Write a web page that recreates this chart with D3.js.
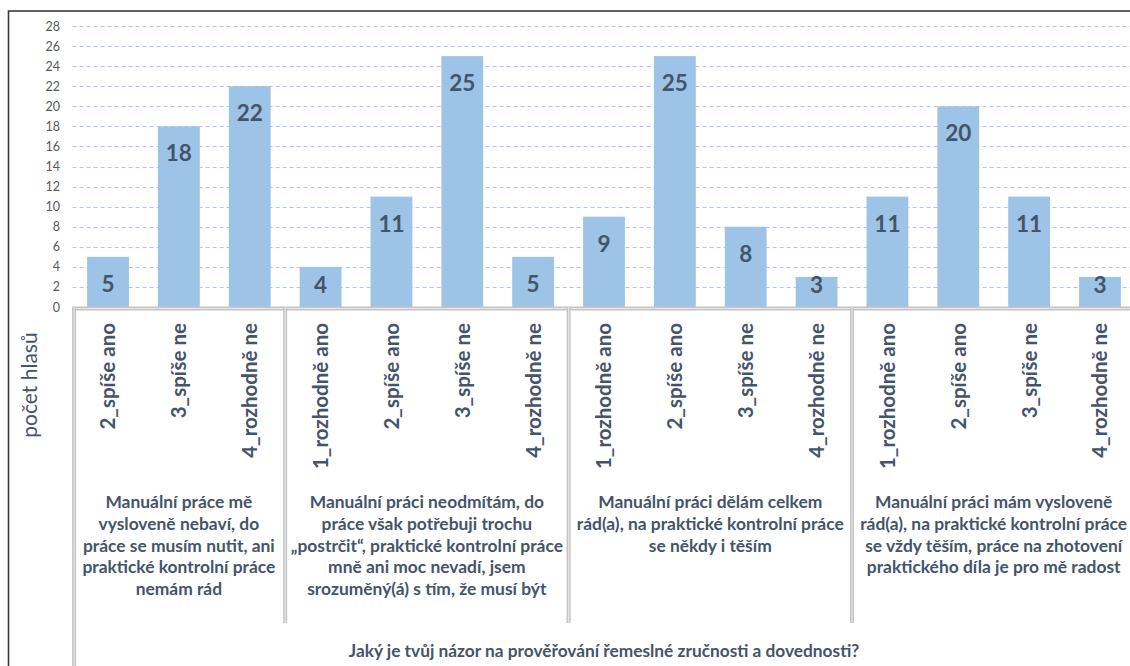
<!DOCTYPE html>
<html>
<head>
<meta charset="utf-8">
<script src="https://cdn.jsdelivr.net/npm/d3@7"></script>
<style>
  html, body { margin: 0; padding: 0; background: #fff; }
  svg { display: block; }
  text { font-family: Lato, "Noto Sans", sans-serif; }
</style>
</head>
<body>
<svg id="chart" width="1130" height="666"></svg>
<script>
// Survey answers, grouped by the statement the respondent chose
const groupLines = [
  ["Manuální práce mě", "vysloveně nebaví, do", "práce se musím nutit, ani", "praktické kontrolní práce", "nemám rád"],
  ["Manuální práci neodmítám, do", "práce však potřebuji trochu", "„postrčit“, praktické kontrolní práce", "mně ani moc nevadí, jsem", "srozuměný(á) s tím, že musí být"],
  ["Manuální práci dělám celkem", "rád(a), na praktické kontrolní práce", "se někdy i těším"],
  ["Manuální práci mám vysloveně", "rád(a), na praktické kontrolní práce", "se vždy těším, práce na zhotovení", "praktického díla je pro mě radost"]
];
const answers1 = ["2_spíše ano", "3_spíše ne", "4_rozhodně ne"];
const answers2 = ["1_rozhodně ano", "2_spíše ano", "3_spíše ne", "4_rozhodně ne"];
const answers3 = ["1_rozhodně ano", "2_spíše ano", "3_spíše ne", "4_rozhodně ne"];
const answers4 = ["1_rozhodně ano", "2_spíše ano", "3_spíše ne", "4_rozhodně ne"];
const values1 = [5, 18, 22];
const values2 = [4, 11, 25, 5];
const values3 = [9, 25, 8, 3];
const values4 = [11, 20, 11, 3];
const yTicks = [0, 2, 4, 6, 8, 10, 12, 14, 16, 18, 20, 22, 24, 26, 28];
const yTitle = "počet hlasů";
const xTitle = "Jaký je tvůj názor na prověřování řemeslné zručnosti a dovednosti?";

const answerSets = [answers1, answers2, answers3, answers4];
const valueSets = [values1, values2, values3, values4];

// flatten into one row per bar
const rows = [];
answerSets.forEach((answers, g) => {
  answers.forEach((a, i) => rows.push({ key: rows.length, group: g, answer: a, value: valueSets[g][i] }));
});

const svg = d3.select("#chart");
const plot = { left: 72.6, right: 1135.4, top: 26, bottom: 307 };

const x = d3.scaleBand()
  .domain(rows.map(d => d.key))
  .range([plot.left, plot.right])
  .paddingInner(0.41)
  .paddingOuter(0.205);

const y = d3.scaleLinear()
  .domain([0, 28])
  .range([plot.bottom, plot.top]);

const textColor = "#44546A";
const lineGray = "#C4C4C4";

// outer chart frame
svg.append("rect")
  .attr("x", 8.5).attr("y", 11)
  .attr("width", 1140).attr("height", 700)
  .attr("fill", "none").attr("stroke", "#3a3a3a").attr("stroke-width", 1.6);

// horizontal dashed gridlines
svg.append("g")
  .selectAll("line")
  .data(yTicks.filter(t => t > 0))
  .join("line")
  .attr("x1", plot.left).attr("x2", plot.right)
  .attr("y1", d => Math.round(y(d)) + 0.5).attr("y2", d => Math.round(y(d)) + 0.5)
  .attr("stroke", "#B4C6E7").attr("stroke-width", 1)
  .attr("stroke-dasharray", "4,3");

// y axis labels
const yAxis = d3.axisLeft(y).tickValues(yTicks).tickSize(0).tickPadding(0);
const yg = svg.append("g")
  .attr("transform", `translate(60,0)`)
  .call(yAxis);
yg.select(".domain").remove();
yg.selectAll("text")
  .attr("fill", "#595959")
  .style("font-size", "12.5px")
  .style("font-family", "Lato, sans-serif");

// bars
svg.append("g")
  .selectAll("rect")
  .data(rows)
  .join("rect")
  .attr("x", d => x(d.key))
  .attr("width", x.bandwidth())
  .attr("y", d => y(d.value))
  .attr("height", d => y(0) - y(d.value))
  .attr("fill", "#9DC3E6");

// value labels, inside the bar end
svg.append("g")
  .selectAll("text")
  .data(rows)
  .join("text")
  .attr("x", d => x(d.key) + x.bandwidth() / 2)
  .attr("y", d => Math.min(y(d.value) + 35, y(0) - 14))
  .attr("text-anchor", "middle")
  .attr("fill", textColor)
  .style("font-size", "22.5px")
  .style("font-weight", "bold")
  .text(d => d.value);

// double rule drawn for the category box lines
function doubleRule(g, x1, y1, x2, y2) {
  g.append("line").attr("x1", x1).attr("y1", y1).attr("x2", x2).attr("y2", y2)
    .attr("stroke", lineGray).attr("stroke-width", 4);
  g.append("line").attr("x1", x1).attr("y1", y1).attr("x2", x2).attr("y2", y2)
    .attr("stroke", "#E6E6E6").attr("stroke-width", 1.2);
}

const rules = svg.append("g");
// axis line along the base of the bars
doubleRule(rules, plot.left, plot.bottom + 1.5, plot.right, plot.bottom + 1.5);
// left edge of the category box, full height
doubleRule(rules, plot.left + 1.5, plot.bottom, plot.left + 1.5, 670);
// separators between statement groups
const groupStarts = [];
rows.forEach((d, i) => { if (i > 0 && d.group !== rows[i - 1].group) groupStarts.push(d.key); });
groupStarts.forEach(k => {
  const sx = x(k) - x.step() * x.paddingInner() / 2;
  doubleRule(rules, sx, plot.bottom, sx, 623);
});

// answer labels, rotated
svg.append("g")
  .selectAll("text")
  .data(rows)
  .join("text")
  .attr("transform", d => `translate(${x(d.key) + x.bandwidth() / 2},323) rotate(-90)`)
  .attr("text-anchor", "end")
  .attr("dy", "0.36em")
  .attr("fill", textColor)
  .style("font-size", "20.5px")
  .style("font-weight", "bold")
  .text(d => d.answer);

// statement labels under each group
const groupCenters = answerSets.map((_, g) => {
  const ks = rows.filter(d => d.group === g).map(d => d.key);
  const a = x(ks[0]) - x.step() * x.paddingInner() / 2;
  const b = x(ks[ks.length - 1]) + x.bandwidth() + x.step() * x.paddingInner() / 2;
  return (a + b) / 2;
});
const gl = svg.append("g");
groupLines.forEach((lines, g) => {
  const t = gl.append("text")
    .attr("text-anchor", "middle")
    .attr("fill", textColor)
    .style("font-size", "17.4px")
    .style("font-weight", "bold");
  lines.forEach((line, i) => {
    t.append("tspan").attr("x", groupCenters[g]).attr("y", 508 + i * 21.8).text(line);
  });
});

// category axis title
svg.append("text")
  .attr("x", (plot.left + plot.right) / 2)
  .attr("y", 657)
  .attr("text-anchor", "middle")
  .attr("fill", textColor)
  .style("font-size", "17.3px")
  .style("font-weight", "bold")
  .text(xTitle);

// value axis title
svg.append("text")
  .attr("transform", "translate(37,385) rotate(-90)")
  .attr("text-anchor", "middle")
  .attr("fill", textColor)
  .style("font-size", "21px")
  .text(yTitle);
</script>
</body>
</html>
